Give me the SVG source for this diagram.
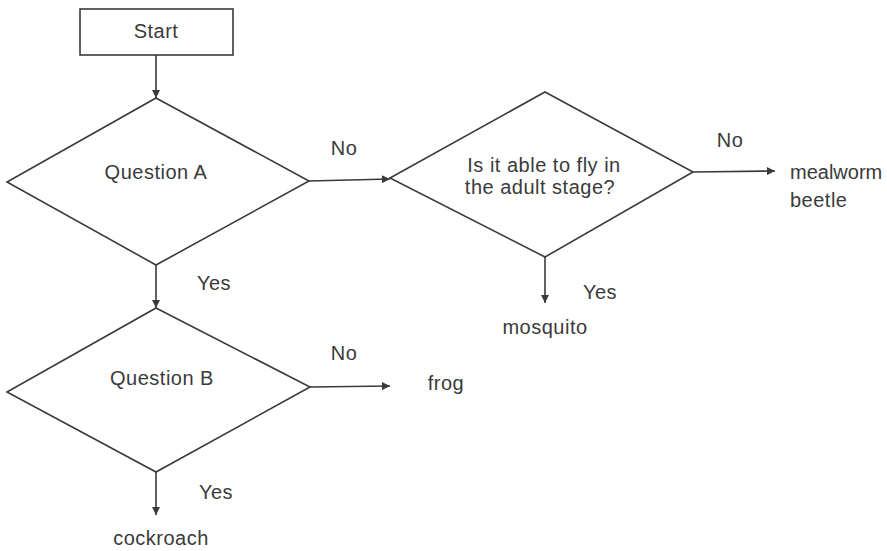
<svg xmlns="http://www.w3.org/2000/svg" width="887" height="551" viewBox="0 0 887 551">
<defs>
<style>
.shape{fill:#fff;stroke:#3a3a3a;stroke-width:1.6}
.conn{fill:none;stroke:#3a3a3a;stroke-width:1.6}
text{font-family:"Liberation Sans",Arial,sans-serif;font-size:20px;letter-spacing:0.5px;fill:#3a3a3a}
.c{text-anchor:middle}
.edge{letter-spacing:0}
</style>
<marker id="ah" viewBox="0 0 10 10" refX="10" refY="5" markerWidth="9" markerHeight="8" markerUnits="userSpaceOnUse" orient="auto">
<path d="M0,0 L10,5 L0,10 Z" fill="#3a3a3a"/>
</marker>
</defs>
<rect width="887" height="551" fill="#fff"/>
<g id="connectors">
<line class="conn" x1="156" y1="55" x2="156" y2="98" marker-end="url(#ah)"/>
<line class="conn" x1="309" y1="181" x2="390" y2="179" marker-end="url(#ah)"/>
<line class="conn" x1="693" y1="172" x2="775" y2="171" marker-end="url(#ah)"/>
<line class="conn" x1="545" y1="257" x2="545" y2="303" marker-end="url(#ah)"/>
<line class="conn" x1="156" y1="265" x2="156" y2="308" marker-end="url(#ah)"/>
<line class="conn" x1="310" y1="387" x2="390" y2="386" marker-end="url(#ah)"/>
<line class="conn" x1="156" y1="472" x2="156" y2="515" marker-end="url(#ah)"/>
<text class="c" x="344" y="155">No</text>
<text class="c" x="730" y="147">No</text>
<text class="c" x="600" y="299">Yes</text>
<text class="c" x="214" y="290">Yes</text>
<text class="c" x="344" y="360">No</text>
<text class="c" x="216" y="499">Yes</text>
</g>
<g id="start">
<rect class="shape" x="80" y="9" width="153" height="46"/>
<text class="c" x="156" y="38">Start</text>
</g>
<g id="questionA">
<polygon class="shape" points="156,98 309,181 156,265 7,182"/>
<text class="c" x="156" y="179">Question A</text>
</g>
<g id="questionFly">
<polygon class="shape" points="545,92 693,172 545,257 390,178"/>
<text class="c" x="544" y="172">Is it able to fly in</text>
<text class="c" x="540" y="194">the adult stage?</text>
</g>
<g id="questionB">
<polygon class="shape" points="156,308 310,387 156,472 7,392"/>
<text class="c" x="162" y="385">Question B</text>
</g>
<g id="mealworm">
<text class="edge" x="790" y="179">mealworm</text>
<text x="790" y="207">beetle</text>
</g>
<g id="mosquito">
<text class="c" x="545" y="334">mosquito</text>
</g>
<g id="frog">
<text class="c" x="446" y="390">frog</text>
</g>
<g id="cockroach">
<text class="c" x="161" y="545">cockroach</text>
</g>
</svg>
